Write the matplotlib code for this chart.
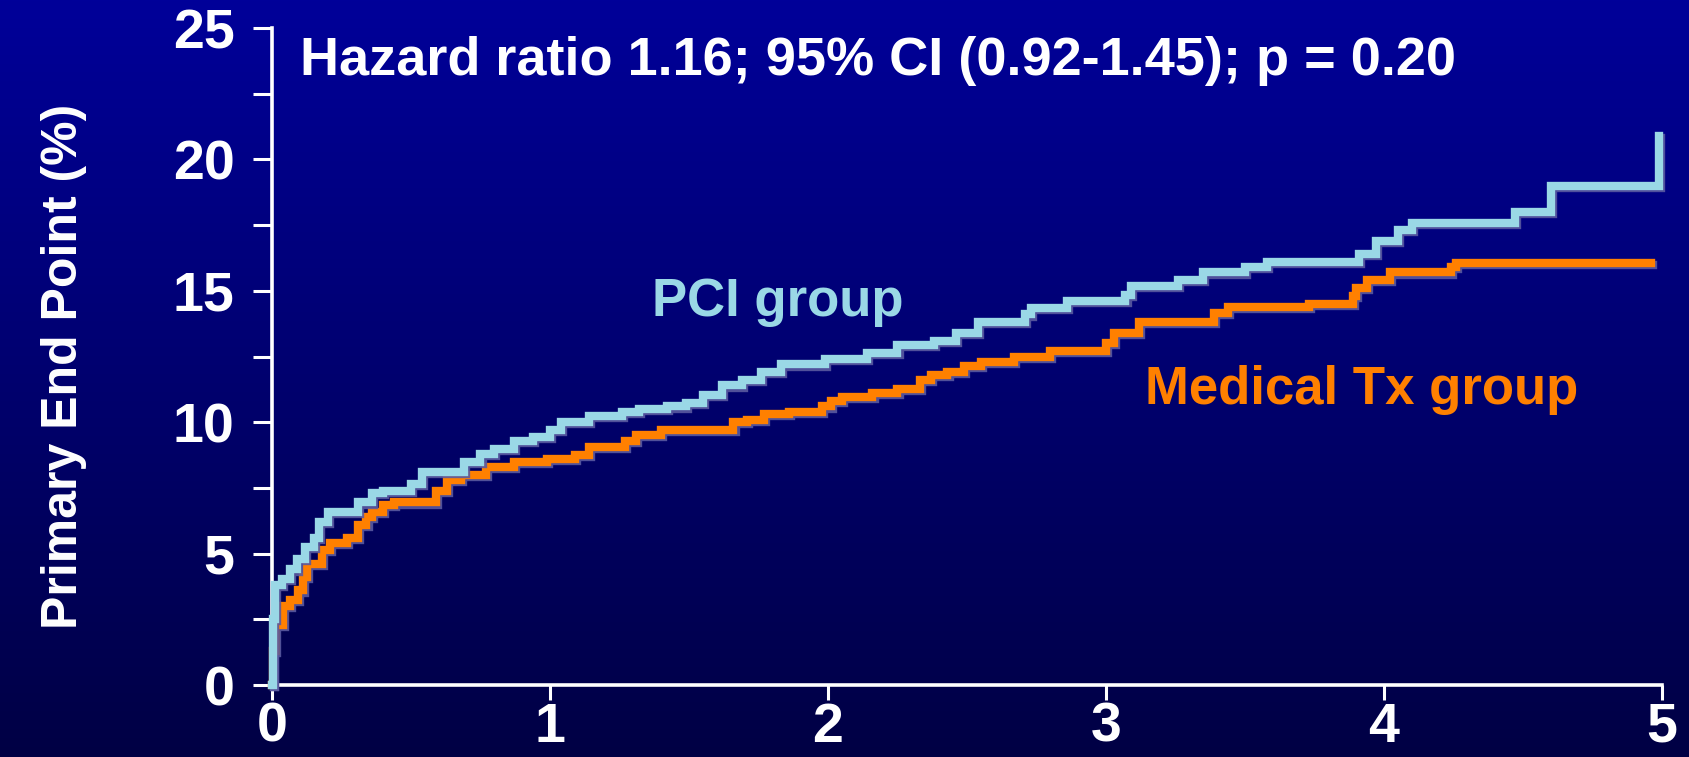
import matplotlib
matplotlib.use("Agg")
import matplotlib.pyplot as plt
import matplotlib.patheffects as pe
import numpy as np
from matplotlib.ticker import MultipleLocator

# years of follow-up / cumulative primary end point (%)
pci_t = [0, 0.003, 0.01, 0.035, 0.065, 0.09, 0.12, 0.15, 0.17, 0.20,
         0.31, 0.36, 0.40, 0.50, 0.54, 0.69, 0.75, 0.80, 0.87, 0.94,
         1.00, 1.04, 1.14, 1.26, 1.32, 1.42, 1.49, 1.55, 1.62, 1.69,
         1.76, 1.83, 1.99, 2.14, 2.25, 2.38, 2.46, 2.54, 2.71, 2.73,
         2.86, 3.07, 3.09, 3.26, 3.35, 3.50, 3.58, 3.91, 3.97, 4.05,
         4.10, 4.47, 4.60, 4.99]
pci_y = [0, 2.5, 3.8, 4.05, 4.4, 4.8, 5.25, 5.6, 6.2, 6.6,
         6.95, 7.3, 7.4, 7.65, 8.1, 8.5, 8.8, 9.0, 9.3, 9.45,
         9.7, 10.0, 10.25, 10.4, 10.5, 10.6, 10.75, 11.05, 11.4, 11.6,
         11.9, 12.2, 12.4, 12.65, 12.95, 13.1, 13.4, 13.8, 14.1, 14.35,
         14.6, 14.85, 15.2, 15.4, 15.7, 15.9, 16.1, 16.4, 16.9, 17.3,
         17.6, 18.0, 19.0, 20.9]

med_t = [0, 0.005, 0.01, 0.04, 0.065, 0.095, 0.11, 0.125, 0.18, 0.21,
         0.27, 0.31, 0.34, 0.36, 0.40, 0.44, 0.59, 0.63, 0.68, 0.77,
         0.87, 0.99, 1.09, 1.14, 1.27, 1.31, 1.40, 1.66, 1.71, 1.77,
         1.86, 1.98, 2.01, 2.05, 2.16, 2.25, 2.33, 2.37, 2.43, 2.49,
         2.55, 2.67, 2.80, 3.00, 3.03, 3.12, 3.39, 3.44, 3.73, 3.89,
         3.90, 3.94, 4.02, 4.24, 4.26, 4.96]
med_y = [0, 1.3, 2.3, 3.0, 3.25, 3.6, 4.1, 4.6, 5.15, 5.4,
         5.6, 6.1, 6.4, 6.6, 6.85, 6.95, 7.4, 7.8, 8.0, 8.3,
         8.5, 8.6, 8.75, 9.05, 9.3, 9.5, 9.7, 10.0, 10.1, 10.3,
         10.4, 10.6, 10.8, 10.95, 11.1, 11.25, 11.6, 11.8, 11.9, 12.15,
         12.3, 12.5, 12.7, 13.0, 13.4, 13.8, 14.15, 14.4, 14.5, 14.8,
         15.1, 15.4, 15.7, 15.9, 16.06, 16.06]

hr_text = "Hazard ratio 1.16; 95% CI (0.92-1.45); p = 0.20"
ylabel = "Primary End Point (%)"

pci_col = "#9AD8E6"
med_col = "#FF8000"

plt.rcParams["font.family"] = ["Liberation Sans", "DejaVu Sans"]
plt.rcParams["font.weight"] = "bold"

fig = plt.figure(figsize=(16.89, 7.57), dpi=100)

# slide background: blue fading to navy
bg = fig.add_axes([0, 0, 1, 1], zorder=-10)
grad = np.linspace(0, 1, 256)[:, None]
top = np.array([0, 0, 153]) / 255
bot = np.array([0, 0, 68]) / 255
img = top[None, None, :] * (1 - grad[:, :, None]) + bot[None, None, :] * grad[:, :, None]
bg.imshow(img, aspect="auto", extent=[0, 1, 0, 1])
bg.axis("off")

ax = fig.add_axes([0.161, 0.095, 0.823, 0.868])
ax.patch.set_alpha(0)

shadow = [pe.SimpleLineShadow(offset=(1.5, -1.5), shadow_color="#5a5aa0", alpha=0.9), pe.Normal()]
ax.step(med_t, med_y, where="post", color=med_col, lw=6, clip_on=False,
        solid_joinstyle="miter", path_effects=shadow, zorder=3)
ax.step(pci_t, pci_y, where="post", color=pci_col, lw=6, clip_on=False,
        solid_joinstyle="miter", path_effects=shadow, zorder=4)

ax.set_xlim(0, 5)
ax.set_ylim(0, 25)
for s in ["top", "right"]:
    ax.spines[s].set_visible(False)
for s in ["left", "bottom"]:
    ax.spines[s].set_color("white")
    ax.spines[s].set_linewidth(2.6)

ax.yaxis.set_major_locator(MultipleLocator(5))
ax.yaxis.set_minor_locator(MultipleLocator(2.5))
ax.xaxis.set_major_locator(MultipleLocator(1))
ax.tick_params(axis="y", which="both", length=14, width=2.2, color="white",
               labelcolor="white", labelsize=40, pad=13)
ax.tick_params(axis="x", which="both", length=11, width=2.2, color="white",
               labelcolor="white", labelsize=40, pad=1)
for lab in ax.get_xticklabels() + ax.get_yticklabels():
    lab.set_fontweight("bold")

fig.text(64 / 1689, 1 - 366 / 757, ylabel, rotation=90, ha="center", va="center",
         color="white", fontsize=36, fontweight="bold")

fig.text(300 / 1689, 1 - 75 / 757, hr_text, ha="left", va="baseline",
         color="white", fontsize=39, fontweight="bold")

ax.text(1.367, 14.04, "PCI group", ha="left", va="baseline", color=pci_col,
        fontsize=38, fontweight="bold")
ax.text(3.14, 10.7, "Medical Tx group", ha="left", va="baseline", color=med_col,
        fontsize=38, fontweight="bold")

fig.savefig("out.png", dpi=100)
